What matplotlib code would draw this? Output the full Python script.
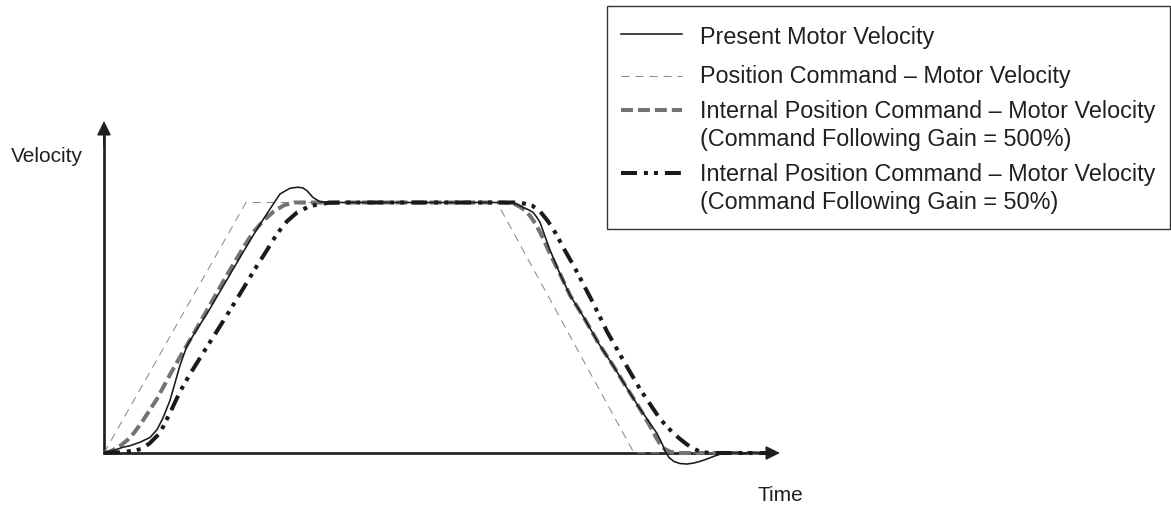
import matplotlib
matplotlib.use("Agg")
import matplotlib.pyplot as plt
from matplotlib.transforms import Affine2D
from matplotlib.lines import Line2D
from matplotlib.patches import Rectangle

plt.rcParams['lines.scale_dashes'] = False
plt.rcParams['font.family'] = ['Liberation Sans', 'DejaVu Sans']

# ---------------- data (time in arbitrary units, velocity in % of plateau) -------------
t_command = [0, 142, 393, 530, 666]
v_command = [0, 100, 100, 0, 0]

t_gain500 = [0, 6, 12, 18, 24, 30, 39, 53, 66, 76, 90, 105, 120, 140, 150, 160, 170, 180,
             190, 200, 300, 400, 410, 416, 421, 426, 431, 436, 441, 446, 456, 466, 480,
             495, 509, 522, 536, 545, 551, 556, 561, 567, 575, 620, 666]
v_gain500 = [0, 0.6, 1.8, 3.4, 5.4, 8, 13, 21.6, 31.3, 38.3, 47.9, 58.4, 69, 82.5, 88.5, 93,
             96.5, 98.9, 100, 100, 100, 100, 99.5, 98.3, 96.8, 94.7, 91.8, 88.2, 84, 79.5,
             71.5, 63, 54, 43.5, 35, 26.5, 17.6, 11.5, 7, 3.6, 1.5, 0.4, 0, 0, 0]

t_motor = [0, 10, 19, 26, 36, 46, 53, 59, 66, 71, 76, 83, 92, 103, 119, 139, 153, 166, 176,
           186, 194, 199, 203, 209, 216, 225, 300, 400, 406, 413, 419, 425, 429, 433, 436,
           441, 446, 456, 466, 480, 495, 509, 522, 536, 545, 553, 558, 561, 565, 570, 576,
           583, 590, 597, 603, 610, 616, 625, 666]
v_motor = [0, 1.1, 2.3, 2.9, 4.3, 6.2, 9.3, 14, 21, 28, 35, 42.8, 48.8, 55.6, 66.5, 80.1,
           89.4, 97.4, 103.4, 105.7, 106.1, 105.8, 104.7, 102, 100.3, 100, 100, 100, 100,
           99.3, 98.1, 97, 96.1, 94, 92.1, 86.5, 81, 71.5, 63, 54, 43.5, 35, 26.5, 17.6,
           12.5, 7.8, 3.8, 0.8, -1.8, -3.4, -4.2, -4.4, -4, -3.2, -2.4, -1.3, -0.5, 0, 0]

t_gain50 = [0, 15, 30, 38, 46, 56, 66, 76, 86, 100, 113, 126, 139, 151, 163, 173, 183, 193,
            204, 214, 225, 240, 300, 410, 420, 428, 436, 444, 452, 460, 470, 489, 503, 520,
            536, 556, 569, 576, 583, 589, 596, 605, 666]
v_gain50 = [0, 0.3, 0.9, 1.7, 4, 8, 16, 24.5, 31.5, 40.5, 48.7, 57, 65.5, 73.5, 81, 87.5,
            92.5, 96, 98.2, 99.3, 99.9, 100, 100, 100, 99.6, 98.8, 96.5, 92.5, 87.5, 81.5,
            74.5, 60, 48.5, 36.5, 25.5, 13.6, 8, 5.6, 3.4, 1.8, 0.6, 0, 0]

legend_labels = [
    "Present Motor Velocity",
    "Position Command \u2013 Motor Velocity",
    "Internal Position Command \u2013 Motor Velocity\n(Command Following Gain = 500%)",
    "Internal Position Command \u2013 Motor Velocity\n(Command Following Gain = 50%)",
]
x_label = "Time"
y_label = "Velocity"

# ---------------- styles -------------
AX_COLOR = '#231f20'
styles = [
    dict(color='#1a1a1a', lw=1.15, linestyle='-'),
    dict(color='#8c8c8c', lw=0.75, linestyle=(0, (5.8, 4.3)), dash_capstyle='butt'),
    dict(color='#737373', lw=2.9, linestyle=(0, (8.6, 3.6)), dash_capstyle='butt'),
    dict(color='#1a1a1a', lw=2.9, linestyle=(0, (11.5, 5, 2.9, 4.3, 2.9, 5)),
         dash_capstyle='butt'),
]

W, H = 1171, 506
VSCALE = 2.505  # pixels per velocity unit
fig = plt.figure(figsize=(W / 100, H / 100), dpi=100)
ax = fig.add_axes([0, 0, 1, 1])
ax.set_xlim(-104, W - 104)
ax.set_ylim(-(H - 454) / VSCALE, 454 / VSCALE)
ax.axis('off')

# axes with arrows
x_tip = 676
y_tip = (454 - 122) / VSCALE
ax.plot([0, 0, x_tip - 10], [y_tip - 10 / VSCALE, 0, 0], color=AX_COLOR, lw=1.95,
        solid_joinstyle='miter', solid_capstyle='butt', zorder=1)
arrow_kw = dict(arrowstyle='-|>,head_length=0.85,head_width=0.42', mutation_scale=10,
                lw=1.2, color=AX_COLOR, shrinkA=0, shrinkB=0)
ax.annotate('', xy=(x_tip, 0), xytext=(x_tip - 25, 0), arrowprops=arrow_kw, zorder=1)
ax.annotate('', xy=(0, y_tip), xytext=(0, y_tip - 25 / VSCALE), arrowprops=arrow_kw, zorder=1)

# curves
ax.plot(t_command, v_command, zorder=2, **styles[1])
ax.plot(t_gain500, v_gain500, zorder=3, **styles[2])
ax.plot(t_gain50, v_gain50, zorder=4, **styles[3])
ax.plot(t_motor, v_motor, zorder=5, **styles[0])

# axis labels
ax.text(-93, 116.6, y_label, fontsize=15, ha='left', va='baseline', color=AX_COLOR)
ax.text(654, -(501.5 - 454) / VSCALE, x_label, fontsize=15, ha='left', va='baseline',
        color=AX_COLOR)

# legend (pixel coordinates, origin top-left)
pxT = Affine2D().scale(1 / W, -1 / H).translate(0, 1) + fig.transFigure
fig.add_artist(Rectangle((607, 7), 563, 223, transform=pxT, fill=False, lw=1.0,
                         ec='#333333'))
handle_y = [35, 77, 111, 174]
text_base = [44, 83.5, 118.5, 181.5]
for lbl, st, hy, ty in zip(legend_labels, styles, handle_y, text_base):
    fig.add_artist(Line2D([621, 682], [hy, hy], transform=pxT, **st))
    for i, line in enumerate(lbl.split('\n')):
        fig.text(700, ty + i * 27.5, line, transform=pxT, fontsize=16.8, ha='left',
                 va='baseline', color=AX_COLOR)

fig.savefig('out.png', dpi=100)
